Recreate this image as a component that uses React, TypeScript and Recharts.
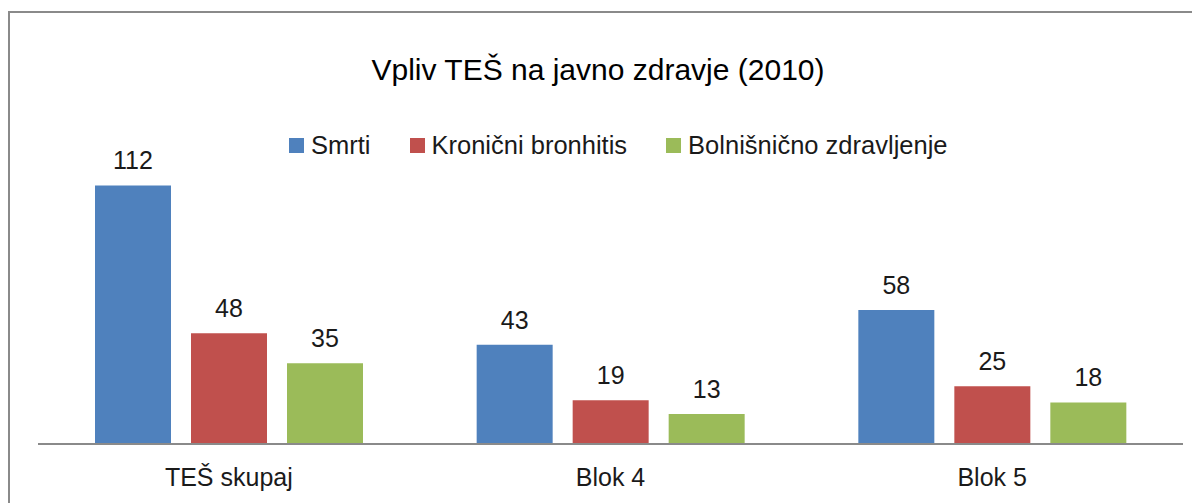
import { Bar, BarChart, LabelList, XAxis, YAxis } from "recharts";

const categories = ["TEŠ skupaj", "Blok 4", "Blok 5"];
const smrti = [112, 43, 58];
const bronhitis = [48, 19, 25];
const bolnisnicno = [35, 13, 18];

const series = [
  { key: "smrti", name: "Smrti", color: "#4F81BD" },
  { key: "bronhitis", name: "Kronični bronhitis", color: "#C0504D" },
  { key: "bolnisnicno", name: "Bolnišnično zdravljenje", color: "#9BBB59" },
];

const data = categories.map((name, i) => ({
  name,
  smrti: smrti[i],
  bronhitis: bronhitis[i],
  bolnisnicno: bolnisnicno[i],
}));

const FONT = '"Liberation Sans", Arial, Helvetica, sans-serif';

function LegendRow() {
  return (
    <div
      style={{
        position: "absolute",
        left: 281,
        top: 122,
        display: "flex",
        fontFamily: FONT,
      }}
    >
      {series.map((s, i) => (
        <div
          key={s.key}
          style={{ display: "flex", alignItems: "center", marginLeft: i === 0 ? 0 : 39 }}
        >
          <span style={{ width: 15, height: 15, background: s.color, marginRight: 7 }} />
          <span style={{ fontSize: 25.5, color: "#1a1a1a", lineHeight: "30px" }}>{s.name}</span>
        </div>
      ))}
    </div>
  );
}

export default function App() {
  return (
    <div style={{ position: "relative", width: 1192, height: 495, fontFamily: FONT }}>
      <div
        style={{
          position: "absolute",
          left: 0,
          top: 3,
          width: 1200,
          height: 500,
          borderLeft: "2px solid #8a8a8a",
          borderTop: "2px solid #8a8a8a",
        }}
      />
      <div
        style={{
          position: "absolute",
          left: 0,
          top: 47,
          width: 1180,
          textAlign: "center",
          fontSize: 30,
          lineHeight: "30px",
          color: "#000",
        }}
      >
        Vpliv TEŠ na javno zdravje (2010)
      </div>
      <LegendRow />
      <BarChart
        width={1192}
        height={492}
        data={data}
        margin={{ top: 159, right: 17, left: 30, bottom: 0 }}
        barSize={76}
        barGap={20}
        style={{ position: "absolute", left: 0, top: 0 }}
      >
        <XAxis
          dataKey="name"
          axisLine={{ stroke: "#8a8a8a", strokeWidth: 2 }}
          tickLine={false}
          tickSize={0}
          tickMargin={24}
          height={56}
          tick={{ fill: "#1a1a1a", fontSize: 25, fontFamily: FONT }}
        />
        <YAxis hide domain={[0, 120]} />
        {series.map((s) => (
          <Bar key={s.key} dataKey={s.key} name={s.name} fill={s.color} isAnimationActive={false}>
            <LabelList
              dataKey={s.key}
              position="top"
              offset={16}
              fill="#1a1a1a"
              fontSize={25}
              fontFamily={FONT}
            />
          </Bar>
        ))}
      </BarChart>
    </div>
  );
}
